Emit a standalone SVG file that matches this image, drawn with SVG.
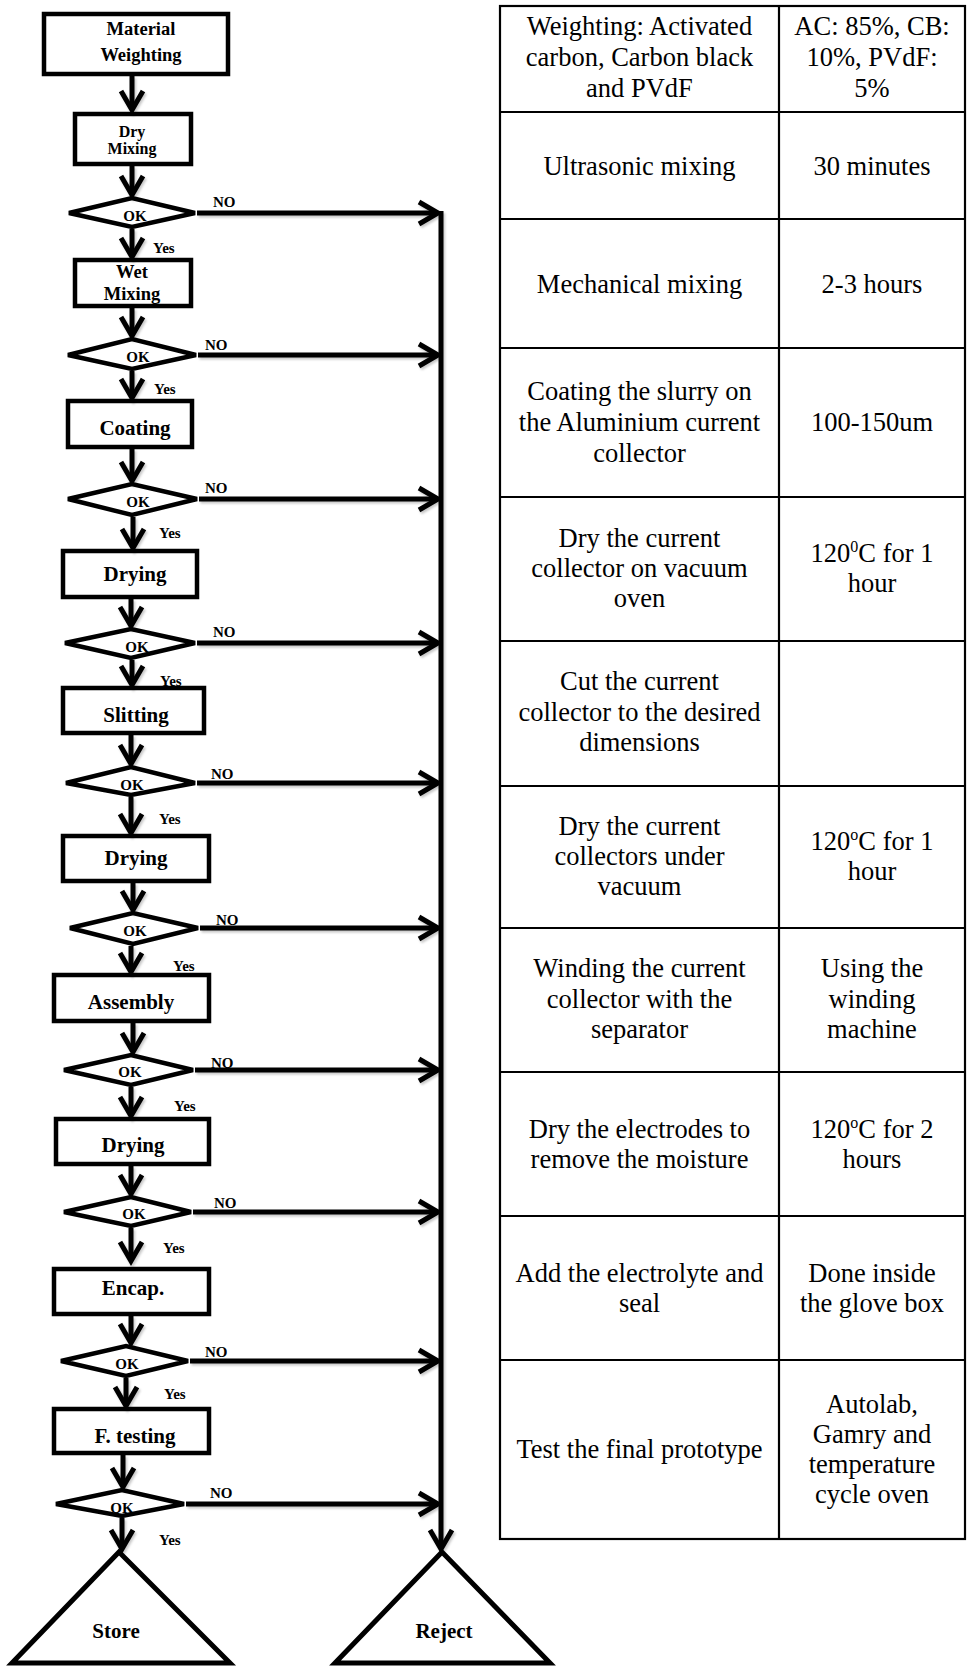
<svg xmlns="http://www.w3.org/2000/svg" width="969" height="1668" viewBox="0 0 969 1668">
  <style>
    .box { fill: #fff; stroke: #000; stroke-width: 4.5; }
    .dia { fill: #fff; stroke: #000; stroke-width: 4.5; stroke-linejoin: miter; }
    .term { fill: #fff; stroke: #000; stroke-width: 5; stroke-linejoin: miter; }
    .flow { fill: none; stroke: #000; stroke-width: 5; }
    text { font-family: 'Liberation Serif', 'Times New Roman', serif; fill: #000; }
    .lbl { font-weight: bold; text-anchor: middle; }
    .big { font-size: 21px; }
    .mid { font-size: 18.5px; }
    .sm { font-size: 16px; }
    .tag { font-weight: bold; font-size: 15px; }
    .ok { font-size: 15px; }
    .grid { fill: none; stroke: #000; stroke-width: 2.2; }
    .cell { font-size: 26.5px; text-anchor: middle; }
  </style>
  <defs>
    <marker id="chev" markerUnits="userSpaceOnUse" viewBox="-22 -14 26 28" refX="0" refY="0" markerWidth="26" markerHeight="28" orient="auto" overflow="visible">
      <path d="M-19,-11 L0,0 L-19,11" fill="none" stroke="#000" stroke-width="5" stroke-linejoin="miter"/>
    </marker>
    <filter id="soft-shadow" x="-5%" y="-5%" width="110%" height="110%">
      <feDropShadow dx="1.5" dy="2" stdDeviation="1.2" flood-color="#000" flood-opacity="0.22"/>
    </filter>
  </defs>

  <!-- process steps -->
  <g id="material-weighting">
    <rect class="box" x="44" y="14" width="184" height="60"/>
    <text class="lbl mid" x="141" y="35">Material</text>
    <text class="lbl mid" x="141" y="61">Weighting</text>
  </g>
  <g id="dry-mixing">
    <rect class="box" x="75" y="114" width="116" height="50"/>
    <text class="lbl sm" x="132" y="137">Dry</text>
    <text class="lbl sm" x="132" y="154">Mixing</text>
  </g>
  <g id="wet-mixing">
    <rect class="box" x="75" y="260" width="116" height="46"/>
    <text class="lbl mid" x="132" y="278">Wet</text>
    <text class="lbl mid" x="132" y="300">Mixing</text>
  </g>
  <g id="coating">
    <rect class="box" x="68" y="401" width="124" height="46"/>
    <text class="lbl big" x="135" y="435">Coating</text>
  </g>
  <g id="drying-1">
    <rect class="box" x="63" y="551" width="134" height="46"/>
    <text class="lbl big" x="135" y="581">Drying</text>
  </g>
  <g id="slitting">
    <rect class="box" x="63" y="688" width="141" height="45"/>
    <text class="lbl big" x="136" y="722">Slitting</text>
  </g>
  <g id="drying-2">
    <rect class="box" x="63" y="836" width="146" height="45"/>
    <text class="lbl big" x="136" y="865">Drying</text>
  </g>
  <g id="assembly">
    <rect class="box" x="54" y="975" width="155" height="46"/>
    <text class="lbl big" x="131" y="1009">Assembly</text>
  </g>
  <g id="drying-3">
    <rect class="box" x="56" y="1119" width="153" height="45"/>
    <text class="lbl big" x="133" y="1152">Drying</text>
  </g>
  <g id="encap">
    <rect class="box" x="54" y="1269" width="155" height="45"/>
    <text class="lbl big" x="133" y="1295">Encap.</text>
  </g>
  <g id="final-testing">
    <rect class="box" x="54" y="1409" width="155" height="44"/>
    <text class="lbl big" x="135" y="1443">F. testing</text>
  </g>

  <!-- quality checks -->
  <g id="check-1">
    <polygon class="dia" points="69,213 132,198 195,213 132,227"/>
    <text class="lbl ok" x="135" y="221">OK</text>
  </g>
  <g id="check-2">
    <polygon class="dia" points="68,355 132,339 196,355 132,369"/>
    <text class="lbl ok" x="138" y="362">OK</text>
  </g>
  <g id="check-3">
    <polygon class="dia" points="68,499 132,484 197,499 132,515"/>
    <text class="lbl ok" x="138" y="507">OK</text>
  </g>
  <g id="check-4">
    <polygon class="dia" points="65,643 131,629 195,643 131,658"/>
    <text class="lbl ok" x="137" y="652">OK</text>
  </g>
  <g id="check-5">
    <polygon class="dia" points="66,783 131,767 195,783 131,795"/>
    <text class="lbl ok" x="132" y="790">OK</text>
  </g>
  <g id="check-6">
    <polygon class="dia" points="70,928 133,913 198,928 133,944"/>
    <text class="lbl ok" x="135" y="936">OK</text>
  </g>
  <g id="check-7">
    <polygon class="dia" points="64,1070 131,1055 193,1070 131,1085"/>
    <text class="lbl ok" x="130" y="1077">OK</text>
  </g>
  <g id="check-8">
    <polygon class="dia" points="64,1212 131,1197 191,1212 131,1226"/>
    <text class="lbl ok" x="134" y="1219">OK</text>
  </g>
  <g id="check-9">
    <polygon class="dia" points="61,1361 126,1346 188,1361 126,1376"/>
    <text class="lbl ok" x="127" y="1369">OK</text>
  </g>
  <g id="check-10">
    <polygon class="dia" points="56,1504 122,1490 184,1504 122,1516"/>
    <text class="lbl ok" x="122" y="1513">OK</text>
  </g>

  <!-- end points -->
  <g id="store">
    <polygon class="term" points="119,1552 12,1663 230,1663"/>
    <text class="lbl" style="font-size:21px" x="116" y="1638">Store</text>
  </g>
  <g id="reject">
    <polygon class="term" points="442,1552 335,1663 550,1663"/>
    <text class="lbl" style="font-size:21px" x="444" y="1638">Reject</text>
  </g>

  <!-- connectors -->
  <g id="connectors">
    <g class="flow" marker-end="url(#chev)" filter="url(#soft-shadow)">
      <line x1="132" y1="76" x2="132" y2="110"/>
      <line x1="132" y1="166" x2="132" y2="195"/>
      <line x1="132" y1="229" x2="132" y2="257"/>
      <line x1="132" y1="308" x2="132" y2="336"/>
      <line x1="132" y1="371" x2="132" y2="398"/>
      <line x1="132" y1="449" x2="132" y2="481"/>
      <line x1="133" y1="517" x2="133" y2="548"/>
      <line x1="131" y1="599" x2="131" y2="626"/>
      <line x1="132" y1="660" x2="132" y2="685"/>
      <line x1="131" y1="735" x2="131" y2="764"/>
      <line x1="131" y1="797" x2="131" y2="833"/>
      <line x1="133" y1="883" x2="133" y2="910"/>
      <line x1="131" y1="946" x2="131" y2="972"/>
      <line x1="133" y1="1023" x2="133" y2="1052"/>
      <line x1="131" y1="1087" x2="131" y2="1116"/>
      <line x1="131" y1="1166" x2="131" y2="1194"/>
      <line x1="131" y1="1228" x2="131" y2="1261"/>
      <line x1="131" y1="1316" x2="131" y2="1343"/>
      <line x1="126" y1="1378" x2="126" y2="1406"/>
      <line x1="123" y1="1455" x2="123" y2="1487"/>
      <line x1="122" y1="1518" x2="122" y2="1549"/>
      <!-- rejection paths -->
      <line x1="197" y1="213" x2="438" y2="213"/>
      <line x1="198" y1="355" x2="438" y2="355"/>
      <line x1="199" y1="499" x2="438" y2="499"/>
      <line x1="197" y1="643" x2="438" y2="643"/>
      <line x1="197" y1="783" x2="438" y2="783"/>
      <line x1="200" y1="928" x2="438" y2="928"/>
      <line x1="195" y1="1070" x2="438" y2="1070"/>
      <line x1="193" y1="1212" x2="438" y2="1212"/>
      <line x1="190" y1="1361" x2="438" y2="1361"/>
      <line x1="186" y1="1504" x2="438" y2="1504"/>
      <line x1="441" y1="211" x2="441" y2="1549"/>
    </g>
    <g id="branch-labels">
      <text class="tag" x="213" y="207">NO</text>
      <text class="tag" x="153" y="253">Yes</text>
      <text class="tag" x="205" y="350">NO</text>
      <text class="tag" x="154" y="394">Yes</text>
      <text class="tag" x="205" y="493">NO</text>
      <text class="tag" x="159" y="538">Yes</text>
      <text class="tag" x="213" y="637">NO</text>
      <text class="tag" x="160" y="686">Yes</text>
      <text class="tag" x="211" y="779">NO</text>
      <text class="tag" x="159" y="824">Yes</text>
      <text class="tag" x="216" y="925">NO</text>
      <text class="tag" x="173" y="971">Yes</text>
      <text class="tag" x="211" y="1068">NO</text>
      <text class="tag" x="174" y="1111">Yes</text>
      <text class="tag" x="214" y="1208">NO</text>
      <text class="tag" x="163" y="1253">Yes</text>
      <text class="tag" x="205" y="1357">NO</text>
      <text class="tag" x="164" y="1399">Yes</text>
      <text class="tag" x="210" y="1498">NO</text>
      <text class="tag" x="159" y="1545">Yes</text>
    </g>
  </g>

  <!-- process parameter table -->
  <g id="parameter-table">
    <rect class="grid" x="500" y="6" width="465" height="1533"/>
    <line class="grid" x1="779" y1="6" x2="779" y2="1539"/>
    <line class="grid" x1="500" y1="112" x2="965" y2="112"/>
    <line class="grid" x1="500" y1="219" x2="965" y2="219"/>
    <line class="grid" x1="500" y1="348" x2="965" y2="348"/>
    <line class="grid" x1="500" y1="497" x2="965" y2="497"/>
    <line class="grid" x1="500" y1="641" x2="965" y2="641"/>
    <line class="grid" x1="500" y1="786" x2="965" y2="786"/>
    <line class="grid" x1="500" y1="928" x2="965" y2="928"/>
    <line class="grid" x1="500" y1="1072" x2="965" y2="1072"/>
    <line class="grid" x1="500" y1="1216" x2="965" y2="1216"/>
    <line class="grid" x1="500" y1="1360" x2="965" y2="1360"/>

    <text class="cell" x="639.5" y="35">Weighting: Activated</text>
    <text class="cell" x="639.5" y="66">carbon, Carbon black</text>
    <text class="cell" x="639.5" y="97">and PVdF</text>
    <text class="cell" x="872" y="35">AC: 85%, CB:</text>
    <text class="cell" x="872" y="66">10%, PVdF:</text>
    <text class="cell" x="872" y="97">5%</text>

    <text class="cell" x="639.5" y="175">Ultrasonic mixing</text>
    <text class="cell" x="872" y="175">30 minutes</text>

    <text class="cell" x="639.5" y="293">Mechanical mixing</text>
    <text class="cell" x="872" y="293">2-3 hours</text>

    <text class="cell" x="639.5" y="400">Coating the slurry on</text>
    <text class="cell" x="639.5" y="431">the Aluminium current</text>
    <text class="cell" x="639.5" y="462">collector</text>
    <text class="cell" x="872" y="431">100-150um</text>

    <text class="cell" x="639.5" y="547">Dry the current</text>
    <text class="cell" x="639.5" y="577">collector on vacuum</text>
    <text class="cell" x="639.5" y="607">oven</text>
    <text class="cell" x="872" y="562">120<tspan dy="-10" font-size="16px">0</tspan><tspan dy="10">C for 1</tspan></text>
    <text class="cell" x="872" y="592">hour</text>

    <text class="cell" x="639.5" y="690">Cut the current</text>
    <text class="cell" x="639.5" y="721">collector to the desired</text>
    <text class="cell" x="639.5" y="751">dimensions</text>

    <text class="cell" x="639.5" y="835">Dry the current</text>
    <text class="cell" x="639.5" y="865">collectors under</text>
    <text class="cell" x="639.5" y="895">vacuum</text>
    <text class="cell" x="872" y="850">120<tspan dy="-10" font-size="16px">o</tspan><tspan dy="10">C for 1</tspan></text>
    <text class="cell" x="872" y="880">hour</text>

    <text class="cell" x="639.5" y="977">Winding the current</text>
    <text class="cell" x="639.5" y="1008">collector with the</text>
    <text class="cell" x="639.5" y="1038">separator</text>
    <text class="cell" x="872" y="977">Using the</text>
    <text class="cell" x="872" y="1008">winding</text>
    <text class="cell" x="872" y="1038">machine</text>

    <text class="cell" x="639.5" y="1138">Dry the electrodes to</text>
    <text class="cell" x="639.5" y="1168">remove the moisture</text>
    <text class="cell" x="872" y="1138">120<tspan dy="-10" font-size="16px">o</tspan><tspan dy="10">C for 2</tspan></text>
    <text class="cell" x="872" y="1168">hours</text>

    <text class="cell" x="639.5" y="1282">Add the electrolyte and</text>
    <text class="cell" x="639.5" y="1312">seal</text>
    <text class="cell" x="872" y="1282">Done inside</text>
    <text class="cell" x="872" y="1312">the glove box</text>

    <text class="cell" x="639.5" y="1458">Test the final prototype</text>
    <text class="cell" x="872" y="1413">Autolab,</text>
    <text class="cell" x="872" y="1443">Gamry and</text>
    <text class="cell" x="872" y="1473">temperature</text>
    <text class="cell" x="872" y="1503">cycle oven</text>
  </g>
</svg>
